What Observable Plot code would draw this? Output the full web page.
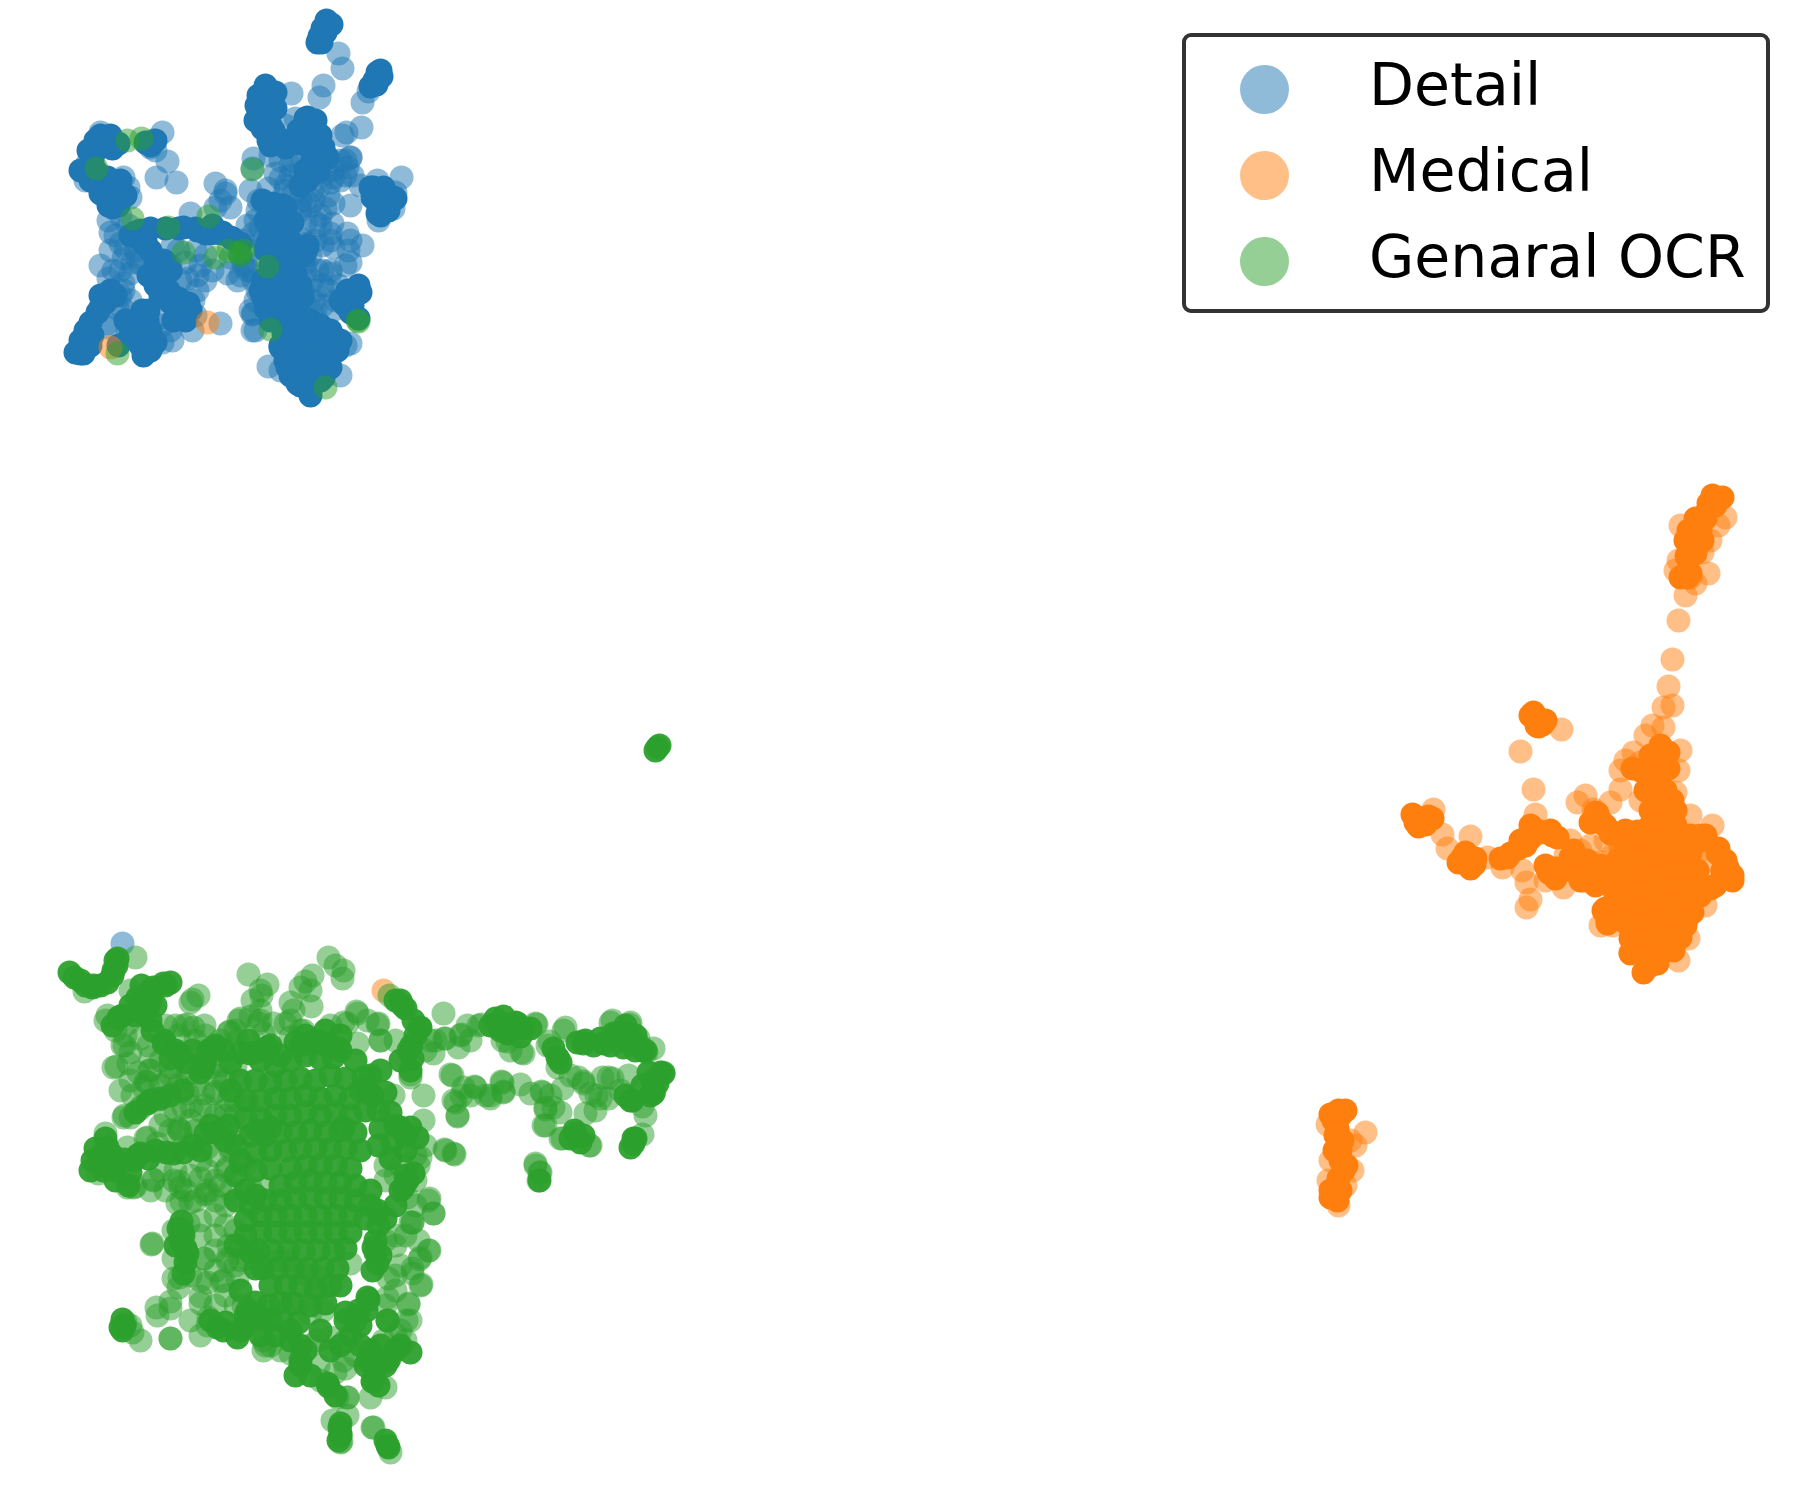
<!DOCTYPE html>
<html>
<head>
<meta charset="utf-8">
<script src="https://cdn.jsdelivr.net/npm/d3@7"></script>
<script src="https://cdn.jsdelivr.net/npm/@observablehq/plot@0.6"></script>
<style>
html,body{margin:0;padding:0;background:#fff}
#wrap{position:relative;width:1803px;height:1503px;overflow:hidden}
#legend{position:absolute;left:1182px;top:33px;width:580px;height:272px;border:4px solid #333;border-radius:9px;background:#fff;font-family:"DejaVu Sans";font-size:58.5px;color:#000}
#legend .sw{position:absolute;left:54px;width:49px;height:49px;border-radius:50%}
#legend .lb{position:absolute;left:183px;line-height:70px;white-space:nowrap}
</style>
</head>
<body>
<div id="wrap"><div id="chart"></div><div id="legend"></div></div>
<script>
const categories = ["Detail","Medical","Genaral OCR"];
const colors = ["#1f77b4","#ff7f0e","#2ca02c"];

// Embedding coordinates. "Solid" lists stand for spots where many points pile up.
const detailSolid = [[326,20],[328,23],[322,28],[319,36],[317,42],[331,24],[325,32],[321,42],[377,72],[374,80],[370,86],[380,70],[381,76],[376,84],
[268,90],[262,100],[258,110],[262,118],[268,112],[272,100],[270,125],[262,128],[275,135],[268,140],[282,140],[292,140],[305,118],[298,130],[310,128],[315,120],[320,135],[310,143],[322,147],[300,143],[312,158],[325,158],[256,105],[258,95],[265,85],[275,92],[275,108],[255,120],[270,145],[273,130],[297,140],[307,117],[313,123],[317,133],[303,127],[323,147],[327,157],[285,147],
[100,135],[105,142],[98,148],[112,148],[118,143],[92,160],[85,172],[90,180],[98,185],[95,170],[105,190],[112,195],[108,205],[118,205],[125,195],[120,180],[150,145],[155,140],[80,170],[100,193],[112,207],[117,193],[107,177],[88,150],[95,140],[110,135],[145,142],
[135,232],[145,240],[150,250],[155,262],[165,262],[148,275],[155,285],[168,290],[178,298],[188,303],[178,312],[185,320],[170,302],[160,295],[140,230],[130,235],[150,228],[137,237],[143,243],[163,260],[153,277],[173,320],[167,290],[183,307],[190,310],[175,305],
[165,228],[178,228],[195,228],[205,233],[222,232],[232,238],[212,225],[183,227],[197,230],[210,233],[220,233],[230,237],[240,243],
[80,353],[85,345],[92,335],[90,322],[97,312],[105,302],[115,295],[100,295],[80,340],[83,353],[75,352],[90,345],[85,330],[110,290],[100,307],
[142,310],[143,325],[147,338],[140,345],[143,355],[155,342],[150,350],[135,320],[147,320],[137,340],[130,335],[150,330],[148,310],
[270,205],[282,205],[265,220],[280,220],[270,235],[283,235],[265,250],[278,250],[270,265],[283,268],[295,275],[262,280],[275,283],[290,285],[262,295],[275,298],[285,300],[265,308],[275,315],[285,325],[270,320],[273,203],[285,207],[273,227],[283,233],[267,243],[280,250],[283,267],[293,273],[270,283],[260,290],[273,300],[287,287],[292,222],[290,240],[262,200],[296,258],[300,285],[302,297],
[280,322],[290,315],[300,318],[310,320],[320,325],[330,330],[335,345],[335,338],[325,340],[315,335],[305,330],[295,330],[285,335],[280,345],[290,345],[300,345],[310,350],[320,355],[330,355],[285,360],[295,360],[305,365],[315,365],[325,365],[290,375],[300,378],[310,378],[320,380],[300,385],[310,390],[310,395],[308,385],[283,333],[280,347],[287,367],[297,383],[337,350],[340,340],[330,367],[323,377],[303,317],
[352,290],[345,298],[358,285],[352,305],[358,318],[347,290],[360,292],[350,312],[345,305],
[378,190],[382,197],[390,200],[378,205],[388,210],[380,215],[370,187],[395,198],[373,187],[380,200],[387,203],[377,213],[393,197],[383,187],[372,197],
[307,180],[300,185],[305,170],[318,170],[340,300],[307,245],[305,252],[170,270],[160,272],[125,320],[118,345]];
const detailLoose = [[338,53],[342,68],[323,85],[319,97],[291,93],[368,91],[362,102],[361,127],[346,132],
[100,132],[153,140],[162,132],[150,147],[155,150],[167,161],[156,177],[176,182],[87,163],[85,180],[128,187],[123,177],[130,197],[108,220],[110,232],[120,243],[125,248],
[190,213],[215,183],[225,193],[230,207],[215,207],[197,275],[187,278],[227,273],[237,280],[250,270],[230,257],[205,255],[195,250],[197,290],[193,300],[160,317],[220,200],[225,190],
[123,290],[122,308],[120,270],[108,278],[123,258],[132,262],[108,327],[162,342],[220,323],[192,330],[170,330],[137,257],[140,263],[130,273],[123,283],[120,295],[117,308],[107,323],
[257,210],[260,227],[257,290],[250,250],[245,262],[240,255],[262,240],[250,310],[255,330],[252,314],[268,366],[280,370],[345,345],[350,343],[340,375],[253,280],[253,313],[252,330],[255,220],[253,233],[247,270],
[253,158],[252,168],[275,173],[268,188],[285,190],[300,210],[292,195],[305,200],[315,222],[320,215],[332,223],[333,203],[350,205],[350,240],[348,250],[362,245],[333,247],[350,262],[330,270],[307,247],[310,255],[322,270],[315,290],[300,295],[335,300],[322,305],[345,265],[305,270],[300,250],[290,165],[332,170],[340,160],[350,157],[320,185],[330,182],[340,180],[345,175],[360,185],[377,180],[401,177],[393,208],[395,192],[378,220],[342,135],[352,175],[310,205],[320,225],[330,240],[270,155],[295,118],[285,125],[302,160],[312,190],[250,190],[258,200],
[333,177],[347,167],[350,157],[317,173],[300,200],[313,200],[330,233],[347,233],[307,243],[303,257],[297,263],[317,270],[330,273],[303,293],[297,303],[313,300],[345,160],[328,195],[322,285],[338,285],[312,312],[332,310],[285,185],[280,160],[290,175],
[292,160],[312,168],[325,172],[300,172],[280,178],[315,240],[322,245],[300,238],[295,245],[305,262],[312,280],[328,290],[292,300],[315,310],[298,208],[305,222],[325,208],[120,215],[128,225],[115,235],[135,250],[172,245],[178,250],[200,265],[212,270],[205,280],[170,265],[180,280],[185,262],[110,250],[100,265],[113,270],[130,300],[127,330],[162,325],[172,340],[195,315],[243,265],[255,300],[247,225],[243,240],[240,275]];

const medicalSolid = [[1717,498],[1712,505],[1706,512],[1700,520],[1695,527],[1688,530],[1692,538],[1700,530],[1685,540],[1690,548],[1683,575],[1690,573],[1712,495],[1722,497],[1715,505],[1708,503],[1705,518],[1695,518],[1688,545],[1697,545],[1702,540],[1687,577],[1680,577],[1695,553],[1686,556],
[1533,712],[1537,718],[1542,724],[1538,726],[1530,715],[1545,720],[1536,725],
[1412,814],[1420,818],[1428,816],[1418,826],[1415,822],[1425,824],[1432,818],[1462,857],[1468,862],[1474,864],[1458,862],[1465,852],[1475,858],[1470,868],
[1507,857],[1518,848],[1530,838],[1540,832],[1552,835],[1530,825],[1550,830],[1525,845],[1537,830],[1547,832],[1557,837],[1527,837],[1510,853],[1500,858],[1520,840],
[1548,872],[1555,878],[1545,865],[1575,872],[1580,880],[1595,885],[1610,885],[1550,873],[1593,882],[1583,880],[1573,850],[1577,870],[1570,857],[1587,860],[1600,865],[1590,870],[1555,868],
[1595,812],[1605,825],[1612,832],[1625,830],[1637,831],[1597,813],[1610,833],[1600,820],[1590,822],
[1660,745],[1660,760],[1668,768],[1640,770],[1632,768],[1648,775],[1655,775],[1645,790],[1655,785],[1665,790],[1672,800],[1650,755],[1668,752],
[1655,795],[1665,800],[1675,810],[1650,810],[1660,820],[1675,825],[1690,835],[1700,840],[1705,835],[1663,803],[1660,813],[1673,810],[1700,835],[1650,825],
[1640,845],[1655,840],[1670,838],[1680,850],[1690,852],[1665,855],[1650,860],[1635,862],[1625,875],[1640,878],[1655,875],[1670,870],[1685,868],[1697,870],[1617,860],[1627,867],[1643,860],[1687,873],[1693,880],[1625,850],[1610,870],
[1615,895],[1630,892],[1645,893],[1660,890],[1675,885],[1690,885],[1700,895],[1605,908],[1620,908],[1635,908],[1650,908],[1665,905],[1680,905],[1692,912],[1617,900],[1603,910],[1607,923],
[1625,922],[1640,925],[1655,923],[1670,920],[1685,925],[1640,940],[1655,938],[1668,938],[1645,955],[1655,955],[1662,950],[1643,972],[1650,965],[1630,953],[1657,963],[1673,950],[1687,917],[1680,937],[1630,938],
[1718,848],[1725,860],[1732,875],[1722,878],[1708,887],[1715,885],[1722,870],[1717,853],[1727,867],[1732,880],[1710,888],
[1338,1110],[1340,1115],[1333,1120],[1337,1128],[1342,1140],[1340,1150],[1340,1160],[1343,1170],[1338,1178],[1335,1188],[1330,1197],[1337,1200],[1345,1110],[1330,1114],[1335,1135],[1334,1150],[1346,1165],[1330,1190],[1340,1190]];
const medicalLoose = [[1678,620],[1672,659],[1668,686],[1672,705],[1663,707],[1663,727],[1680,525],[1725,517],[1718,525],[1710,540],[1702,552],[1678,560],[1690,577],[1708,573],[1685,595],[1695,583],[1675,570],
[1561,729],[1520,751],[1533,789],[1535,814],[1433,809],[1442,834],[1447,848],[1470,836],[1487,857],[1502,867],[1526,882],[1530,899],[1526,907],[1563,887],[1522,870],[1545,880],
[1585,795],[1577,802],[1593,809],[1610,802],[1620,789],[1570,840],[1580,850],[1565,855],[1585,865],[1612,855],[1620,850],[1600,862],[1605,840],[1590,845],
[1633,752],[1625,760],[1620,770],[1645,735],[1652,725],[1680,750],[1675,792],[1690,815],[1640,800],[1650,780],[1712,825],[1710,860],[1700,850],[1600,925],[1612,925],[1630,952],[1673,947],[1688,938],[1678,960],[1605,915],[1688,895],[1705,905],[1708,880],[1640,762],[1678,770],[1620,845],[1635,850],[1650,845],
[1327,1124],[1365,1132],[1350,1140],[1355,1145],[1330,1160],[1352,1170],[1345,1185],[1328,1180],[1338,1205]];

const ocrSolid = [[657,747],[655,750],[659,745],
[69,972],[74,977],[85,985],[92,987],[100,985],[107,982],[112,975],[116,965],[117,958],[80,980],[93,985],[115,960],[113,970],
[141,985],[150,990],[165,985],[170,982],[140,1000],[148,1005],[150,1020],[152,1030],[122,1015],[164,1040],[175,1050],[180,1055],[192,1050],[147,993],[163,983],[153,987],[137,997],[143,1013],[118,1017],[163,1043],[177,1053],[203,1067],[130,1005],[155,1005],[135,1015],[170,1058],[185,1062],[150,1000],[112,1025],
[208,1050],[205,1060],[200,1072],[215,1045],[240,1052],[255,1052],[270,1045],[300,1045],[315,1040],[328,1045],[213,1047],[223,1050],[250,1053],[267,1047],[323,1043],[310,1043],[337,1047],[333,1057],[363,1077],[367,1090],[230,1062],[280,1055],[295,1042],[305,1035],[325,1030],[340,1035],
[150,1100],[160,1098],[170,1095],[147,1103],[135,1112],[182,1090],
[103,1152],[105,1138],[101,1165],[112,1155],[115,1170],[124,1159],[137,1155],[130,1172],[148,1158],[166,1152],[183,1152],[200,1150],[215,1132],[210,1125],[100,1157],[107,1147],[103,1170],[117,1163],[133,1160],[140,1153],[173,1153],[92,1160],[95,1148],[205,1133],[90,1170],[115,1180],[128,1185],[155,1150],[192,1145],
[411,1045],[419,1027],[415,1035],[405,1008],[400,1000],[410,1070],[402,1005],[408,1050],[420,1027],[413,1020],[400,1060],[412,1058],[395,1000],
[503,1016],[515,1022],[510,1030],[495,1018],[522,1028],[585,1040],[600,1038],[615,1035],[625,1025],[635,1035],[645,1050],[628,1042],[507,1033],[517,1023],[530,1028],[557,1057],[553,1048],[583,1043],[603,1043],[613,1033],[627,1033],[637,1043],[623,1047],[593,1045],[643,1050],[577,1042],[490,1025],[500,1030],[520,1036],[560,1062],[610,1045],[635,1050],
[652,1080],[660,1072],[650,1095],[630,1100],[625,1095],[574,1130],[570,1138],[580,1142],[633,1138],[630,1147],[539,1180],[657,1083],[663,1073],[653,1093],[632,1100],[575,1133],[583,1135],[635,1138],[633,1143],[642,1085],[648,1072],
[122,1319],[124,1325],[122,1330],[339,1427],[338,1440],[340,1435],[387,1445],[385,1440],[340,1423],[340,1433],[120,1327],[388,1447],
[181,1221],[185,1248],[185,1262],[183,1235],[178,1228],[182,1230],[187,1253],[183,1273],[180,1240],[175,1245],
[375,1252],[377,1263],[375,1240],[372,1270],[368,1299],[366,1310],[360,1325],[350,1335],[340,1345],[373,1247],[367,1297],[345,1320],[300,1360],[373,1380],[327,1383],[367,1360],[387,1320],[358,1310],[320,1330],[330,1350],[380,1255],[388,1360],[360,1345],
[370,1350],[380,1345],[395,1350],[410,1352],[400,1345],[365,1365],[375,1368],[385,1365],[372,1381],[378,1385],[335,1395],[328,1386],[305,1350],[300,1365],[295,1375],[310,1375],[290,1340],[275,1335],[260,1335],[245,1325],[223,1330],[217,1327],[237,1337],[290,1330],[300,1345],
// core
[248,1040],[260,1060],[275,1065],[290,1060],[305,1055],[320,1058],[340,1050],[355,1060],[370,1075],[380,1070],
[240,1080],[255,1080],[270,1082],[285,1080],[300,1078],[315,1080],[330,1075],[345,1078],[360,1090],[372,1095],[385,1092],
[245,1100],[260,1100],[275,1098],[290,1098],[305,1095],[320,1098],[335,1095],[350,1098],[365,1110],[378,1110],[390,1112],
[245,1118],[260,1118],[275,1115],[290,1115],[305,1112],[320,1115],[335,1112],[350,1115],[380,1128],[395,1125],[400,1127],[410,1127],[417,1137],
[250,1135],[265,1135],[280,1132],[295,1132],[310,1130],[325,1132],[340,1130],[355,1132],[378,1145],[392,1142],[405,1135],[257,1130],[270,1127],[343,1127],
[255,1152],[270,1150],[285,1150],[300,1148],[315,1148],[330,1148],[345,1148],[360,1150],[390,1158],[405,1150],
[240,1160],[255,1170],[270,1168],[290,1168],[305,1165],[320,1165],[335,1165],[350,1168],[407,1180],[403,1187],[413,1173],
[280,1185],[295,1182],[310,1180],[325,1182],[340,1182],[355,1185],[370,1190],[405,1175],[400,1190],[245,1190],
[255,1195],[265,1200],[280,1200],[295,1198],[310,1198],[325,1198],[340,1198],[355,1200],[370,1205],[395,1205],[385,1218],[250,1205],[377,1210],
[260,1215],[275,1215],[290,1215],[305,1215],[320,1215],[335,1215],[350,1215],[365,1218],[378,1225],[245,1220],
[260,1232],[275,1232],[290,1232],[305,1232],[320,1232],[335,1232],[350,1232],[245,1235],
[258,1250],[272,1250],[288,1250],[303,1250],[318,1250],[333,1250],[345,1248],[250,1252],
[262,1268],[277,1268],[292,1268],[307,1268],[322,1268],[337,1268],[255,1268],
[270,1285],[285,1285],[300,1285],[315,1288],[330,1285],[340,1285],
[255,1302],[268,1305],[280,1302],[292,1303],[310,1305],[325,1303],[247,1310],[260,1317],
[245,1315],[258,1318],[270,1320],[282,1320],[298,1322],[355,1320],
[240,1330],[225,1322],[210,1320],[345,1312],[230,1090],[228,1125],[235,1145],[225,1140],[235,1175],[235,1200],[235,1245],[240,1290]];
const ocrLoose = [[84,991],[105,1020],[120,1016],[135,957],[192,999],[198,995],[187,1024],[204,1025],[124,1045],[116,1066],[130,1052],[149,1070],[145,1081],[158,1099],[141,1106],[124,1115],[187,1074],[225,1081],[215,1091],[191,1106],[179,1131],[130,990],[138,1010],[175,1025],[160,1060],[170,1075],[228,1100],
[145,1138],[135,1186],[153,1179],[179,1181],[181,1201],[204,1194],[152,1243],[204,1258],[227,1261],[221,1281],[200,1296],[179,1277],[170,1301],[156,1307],[170,1338],[208,1317],[263,1340],[140,1340],[130,1325],[200,1220],[215,1200],[225,1205],[235,1230],[240,1260],[215,1270],[185,1190],[215,1180],[225,1170],[230,1150],[235,1135],[225,1115],[235,1100],
[444,1038],[461,1034],[481,1024],[507,1041],[519,1027],[521,1052],[536,1024],[549,1041],[558,1059],[565,1027],[582,1041],[612,1020],[629,1024],[638,1038],[646,1052],[663,1072],[654,1091],[642,1106],[608,1077],[583,1081],[596,1095],[562,1088],[541,1091],[545,1109],[543,1125],[562,1138],[589,1145],[585,1113],[642,1134],[535,1163],[539,1172],[430,1040],[425,1050],[395,1040],[380,1040],
[450,1074],[474,1086],[461,1095],[455,1102],[457,1116],[490,1095],[501,1081],[520,1084],[503,1091],[444,1149],[454,1154],[423,1095],[410,1074],[393,1095],[433,1213],[410,1222],[429,1198],[415,1180],[415,1155],[429,1250],[419,1259],[412,1268],[421,1284],[408,1304],[406,1320],[387,1320],[328,957],[335,965],[343,970],[342,978],[248,974],[267,984],[261,995],[305,981],[312,975],[290,1002],[311,1006],[250,1016],[238,1020],[229,1031],[389,995],[356,1011],[343,1022],[377,1024],[330,1025],[260,1020],[290,1020],[300,1030],[220,1065],[235,1065],
[347,1397],[372,1427],[341,1441],[265,1345],[335,1372],[318,1365],[345,1368],
// second pass over the finer crops
[260,990],[252,1000],[260,1010],[240,1018],[258,1023],[263,1033],[228,1032],[237,1040],[310,990],[300,987],[293,1010],[285,1023],[303,1030],[273,1023],[290,1037],[190,1002],[183,1025],[193,1027],[357,1013],[347,1023],[367,1020],[378,1023],[380,1040],[357,1043],[107,1015],[128,1023],[122,1045],[113,1067],[128,1063],[150,1057],[150,1070],[138,1072],[147,1082],[143,1087],[170,1067],[168,1080],[190,1073],[210,1067],[223,1080],[213,1093],[203,1093],[187,1093],[183,1107],[200,1110],[225,1110],[247,1100],[123,1117],[130,1117],[140,1108],[178,1128],[190,1143],[207,1147],[200,1160],[230,1147],[227,1167],[240,1163],[180,1187],[207,1190],[207,1170],[230,1190],[250,1187],[263,1187],[153,1180],[127,1187],[133,1187],[98,1173],[105,1133],[147,1137],[127,1147],[157,1143],[173,1180],[180,1130],
[443,1013],[433,1053],[445,1038],[458,1047],[460,1035],[478,1025],[467,1025],[502,1040],[510,1050],[523,1053],[535,1023],[547,1045],[563,1030],[557,1067],[610,1022],[630,1022],[653,1048],[452,1075],[453,1100],[457,1115],[463,1087],[475,1087],[485,1095],[490,1098],[502,1082],[503,1092],[530,1093],[542,1092],[545,1107],[545,1125],[560,1138],[553,1107],[560,1112],[590,1145],[578,1077],[583,1083],[600,1098],[590,1093],[612,1078],[608,1098],[602,1077],[445,1150],[453,1153],[535,1165],[540,1172],[538,1180],[423,1120],[433,1213],[412,1222],[428,1200],[420,1157],[407,1197],[410,1077],
[151,1244],[157,1315],[170,1308],[170,1338],[200,1303],[207,1325],[178,1287],[207,1282],[223,1280],[227,1258],[237,1278],[247,1258],[243,1305],[263,1350],[290,1353],[320,1380],[347,1397],[337,1397],[332,1420],[347,1415],[340,1442],[373,1427],[390,1452],[412,1222],[428,1250],[420,1257],[412,1273],[420,1285],[408,1303],[410,1320],[400,1330],[383,1340],[390,1357],[385,1387],[370,1397],[388,1278],[387,1297],[350,1263],[297,1303],[317,1290],[310,1313],[323,1310],[277,1260],[287,1260],[303,1273],[320,1277],[330,1337],[317,1340],[343,1360],[177,1203],[190,1202],[207,1193],[188,1223],[173,1230],[203,1258],[173,1258],[173,1278],[125,1322],[132,1332],
// third pass: filling the spaces between the branches
[115,1030],[125,1035],[140,1038],[148,1045],[165,1025],[178,1035],[195,1040],[205,1035],[220,1040],[235,1030],[130,1080],[120,1090],[132,1095],[160,1085],[178,1085],[195,1085],[215,1075],[165,1115],[175,1110],[190,1120],[205,1105],[215,1115],[235,1115],[160,1125],[170,1130],[195,1130],[220,1130],[245,1165],[215,1155],[160,1170],[175,1170],[190,1175],[200,1178],[220,1185],[150,1190],[165,1190],[195,1200],[215,1215],[225,1225],[215,1235],[200,1235],[228,1245],[240,1245],[215,1250],[190,1275],[200,1280],[235,1265],[225,1295],[235,1305],[215,1305],[190,1320],[200,1335],[270,1345],[280,1350],[310,1345],[345,1340],[355,1355],[395,1335],[405,1340],[385,1305],[395,1290],[395,1275],[400,1265],[395,1245],[405,1235],[418,1240],[395,1235],[415,1205],[418,1165],[425,1145],[400,1165],[395,1175],[385,1180],[385,1165],[385,1240],[435,1040],[470,1040],[470,1095],[550,1095],[570,1075],[595,1110],[620,1090],[628,1075],[645,1115]];

const dots = (rows, i, o) => Plot.dot(rows, {x: d => d[0], y: d => d[1], r: 12, fill: colors[i], fillOpacity: o});

const plot = Plot.plot({
  width: 1803, height: 1503,
  marginTop: 0, marginRight: 0, marginBottom: 0, marginLeft: 0,
  x: {domain: [0, 1803], axis: null},
  y: {domain: [1503, 0], axis: null},
  style: {background: "#fff"},
  marks: [
    dots(detailLoose, 0, 0.5),
    dots(detailSolid, 0, 1),
    dots([[110,347],[207,322],[383,990]], 1, 0.5),
    dots(medicalLoose, 1, 0.5),
    dots(medicalSolid, 1, 1),
    dots([[122,943]], 0, 0.5),
    dots([[96,168],[127,140],[141,138],[132,218],[168,227],[208,216],[183,252],[215,257],[228,250],[238,252],[243,250],[240,255],[267,266],[252,169],[270,329],[357,320],[358,321],[325,387],[117,353]], 2, 0.5),
    dots(ocrLoose, 2, 0.5),
    dots(ocrSolid, 2, 0.95)
  ]
});
document.getElementById("chart").appendChild(plot);

const legend = document.getElementById("legend");
categories.forEach((name, i) => {
  const top = 28 + i * 86;
  const sw = document.createElement("div");
  sw.className = "sw";
  sw.style.top = top + "px";
  sw.style.background = colors[i];
  sw.style.opacity = 0.5;
  const lb = document.createElement("div");
  lb.className = "lb";
  lb.style.top = (top - 15) + "px";
  lb.textContent = name;
  legend.append(sw, lb);
});
</script>
</body>
</html>
